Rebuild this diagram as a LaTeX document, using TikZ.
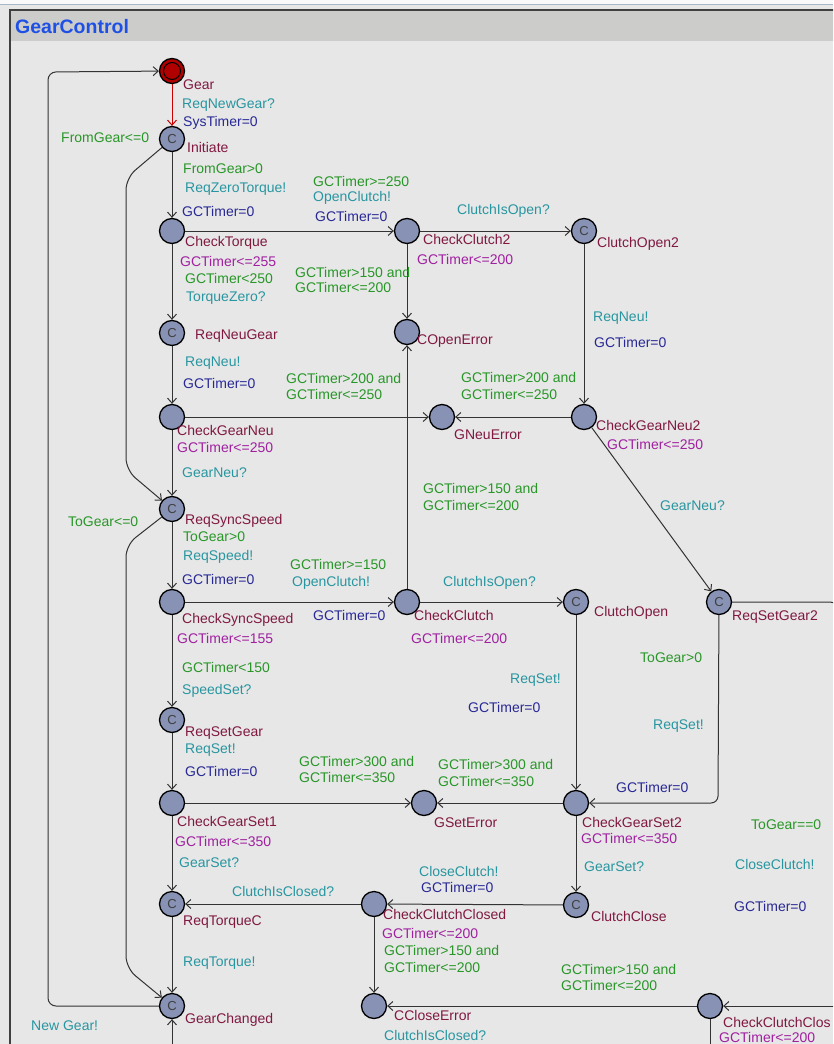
\documentclass[tikz,border=0pt]{standalone}
\usepackage{fontspec}
\setmainfont{Liberation Sans}
\usetikzlibrary{arrows.meta}
\definecolor{bgc}{HTML}{E7E7E7}
\definecolor{titlec}{HTML}{CCCCCA}
\definecolor{titletext}{HTML}{1E50E6}
\definecolor{topline}{HTML}{A8B8CC}
\definecolor{nodefill}{HTML}{8792B4}
\definecolor{namec}{HTML}{801840}
\definecolor{invc}{HTML}{A020A0}
\definecolor{guardc}{HTML}{289628}
\definecolor{syncc}{HTML}{2896A0}
\definecolor{updc}{HTML}{282896}
\definecolor{edgec}{HTML}{333333}
\definecolor{initc}{HTML}{B00000}
\newcommand\putlab[5]{\node[#4] (#1) at (#2,#3) {#5};}
\begin{document}
\begin{tikzpicture}[x=1pt,y=-1pt,
  every node/.style={font=\fontsize{14}{16}\selectfont},
  loc/.style={circle,draw=black,line width=1.3pt,fill=nodefill,minimum size=25pt,inner sep=0pt},
  comm/.style={loc,text=black!75,font=\fontsize{13}{13}\selectfont},
  txt/.style={anchor=west,inner sep=0pt},
  nm/.style={txt,text=namec},
  inv/.style={txt,text=invc},
  gd/.style={txt,text=guardc,align=left},
  sy/.style={txt,text=syncc},
  up/.style={txt,text=updc},
  edge/.style={draw=edgec,line width=1pt,-{Straight Barb[length=5pt,width=9pt]}},
  plain/.style={draw=edgec,line width=1pt}]
\useasboundingbox (0,0) rectangle (833,1044);
\clip (0,0) rectangle (833,1044);
\fill[bgc] (0,0) rectangle (833,1044);
\fill[white!95!gray] (0,0) rectangle (833,4);
\draw[topline,line width=1.5pt] (0,4.5) -- (833,4.5);
\fill[titlec] (10,10) rectangle (840,41);
\draw[black!75,line width=1.6pt] (10,1060) -- (10,10) -- (840,10);
\node[anchor=west,inner sep=0pt,text=titletext,font=\fontsize{19.5}{20}\selectfont\bfseries] (title) at (15,27) {GearControl};

% locations
\node[loc,fill=initc,minimum size=25pt] (Gear) at (172,71) {};
\draw[black,line width=1pt] (Gear) circle (8.5pt);
\node[comm] (Initiate) at (172,139) {C};
\node[loc] (CheckTorque) at (172,231) {};
\node[loc] (CheckClutch2) at (407,231) {};
\node[comm] (ClutchOpen2) at (584,231) {C};
\node[comm] (ReqNeuGear) at (172,333) {C};
\node[loc] (COpenError) at (407,332) {};
\node[loc] (CheckGearNeu) at (172,417) {};
\node[loc] (GNeuError) at (442,417) {};
\node[loc] (CheckGearNeu2) at (584,417) {};
\node[comm] (ReqSyncSpeed) at (172,509) {C};
\node[loc] (CheckSyncSpeed) at (172,602) {};
\node[loc] (CheckClutch) at (407,602) {};
\node[comm] (ClutchOpen) at (576,602) {C};
\node[comm] (ReqSetGear2) at (719,602) {C};
\node[comm] (ReqSetGear) at (172,720) {C};
\node[loc] (CheckGearSet1) at (172,803) {};
\node[loc] (GSetError) at (424,803) {};
\node[loc] (CheckGearSet2) at (576,803) {};
\node[comm] (ReqTorqueC) at (172,904) {C};
\node[loc] (CheckClutchClosed) at (374,904) {};
\node[comm] (ClutchClose) at (576,905) {C};
\node[comm] (GearChanged) at (172,1006) {C};
\node[loc] (CCloseError) at (374,1006) {};
\node[loc] (CheckClutchClosed2) at (710,1006) {};

% free ends
\coordinate (rightA) at (838,602);
\coordinate (rightB) at (838,1006);
\coordinate (botA) at (172,1060);
\coordinate (botB) at (710,1060);

% edges
\draw[edge,draw=red!80!black] (Gear) -- (Initiate);
\draw[edge] (Initiate) -- (CheckTorque);
\draw[edge,rounded corners=12pt] (Initiate) -- (126,178) -- (126,470) -- (ReqSyncSpeed);
\draw[edge] (CheckTorque) -- (ReqNeuGear);
\draw[edge] (CheckTorque) -- (CheckClutch2);
\draw[edge] (CheckClutch2) -- (ClutchOpen2);
\draw[edge] (CheckClutch2) -- (COpenError);
\draw[edge] (ClutchOpen2) -- (CheckGearNeu2);
\draw[edge] (ReqNeuGear) -- (CheckGearNeu);
\draw[edge] (CheckGearNeu) -- (GNeuError);
\draw[edge] (CheckGearNeu2) -- (GNeuError);
\draw[edge] (CheckGearNeu) -- (ReqSyncSpeed);
\draw[edge] (CheckGearNeu2) -- (ReqSetGear2);
\draw[edge] (ReqSyncSpeed) -- (CheckSyncSpeed);
\draw[edge,rounded corners=12pt] (ReqSyncSpeed) -- (126,545) -- (126,968) -- (GearChanged);
\draw[edge] (CheckSyncSpeed) -- (CheckClutch);
\draw[edge] (CheckClutch) -- (COpenError);
\draw[edge] (CheckClutch) -- (ClutchOpen);
\draw[edge] (ClutchOpen) -- (CheckGearSet2);
\draw[edge,rounded corners=7pt] (ReqSetGear2) -- (718,803) -- (CheckGearSet2);
\draw[plain,rounded corners=8pt] (ReqSetGear2) -- (rightA) -- (rightB);
\draw[edge] (rightB) -- (CheckClutchClosed2);
\draw[edge] (CheckSyncSpeed) -- (ReqSetGear);
\draw[edge] (ReqSetGear) -- (CheckGearSet1);
\draw[edge] (CheckGearSet1) -- (GSetError);
\draw[edge] (CheckGearSet2) -- (GSetError);
\draw[edge] (CheckGearSet1) -- (ReqTorqueC);
\draw[edge] (CheckGearSet2) -- (ClutchClose);
\draw[edge] (ClutchClose) -- (CheckClutchClosed);
\draw[edge] (CheckClutchClosed) -- (ReqTorqueC);
\draw[edge] (CheckClutchClosed) -- (CCloseError);
\draw[edge] (CheckClutchClosed2) -- (CCloseError);
\draw[edge] (ReqTorqueC) -- (GearChanged);
\draw[edge,rounded corners=8pt] (GearChanged) -- (48,1006) -- (48,72) -- (Gear);
\draw[edge] (botA) -- (GearChanged);
\draw[plain] (CheckClutchClosed2) -- (botB);

% labels: location names and invariants
\putlab{n1}{183}{85}{nm}{Gear}
\putlab{n2}{187}{147}{nm}{Initiate}
\putlab{n3}{185}{243}{nm}{CheckTorque}
\putlab{i3}{180}{261}{inv}{GCTimer<=255}
\putlab{n4}{423}{239}{nm}{CheckClutch2}
\putlab{i4}{417}{259}{inv}{GCTimer<=200}
\putlab{n5}{597}{244}{nm}{ClutchOpen2}
\putlab{n6}{195}{336}{nm}{ReqNeuGear}
\putlab{n7}{417}{341}{nm}{COpenError}
\putlab{n8}{177}{430}{nm}{CheckGearNeu}
\putlab{i8}{177}{447}{inv}{GCTimer<=250}
\putlab{n9}{454}{435}{nm}{GNeuError}
\putlab{n10}{596}{425}{nm}{CheckGearNeu2}
\putlab{i10}{607}{444}{inv}{GCTimer<=250}
\putlab{n11}{185}{521}{nm}{ReqSyncSpeed}
\putlab{n12}{182}{620}{nm}{CheckSyncSpeed}
\putlab{i12}{177}{638}{inv}{GCTimer<=155}
\putlab{n13}{414}{615}{nm}{CheckClutch}
\putlab{i13}{411}{638}{inv}{GCTimer<=200}
\putlab{n14}{594}{613}{nm}{ClutchOpen}
\putlab{n15}{732}{617}{nm}{ReqSetGear2}
\putlab{n16}{185}{733}{nm}{ReqSetGear}
\putlab{n17}{177}{821}{nm}{CheckGearSet1}
\putlab{i17}{175}{841}{inv}{GCTimer<=350}
\putlab{n18}{434}{823}{nm}{GSetError}
\putlab{n19}{582}{822}{nm}{CheckGearSet2}
\putlab{i19}{581}{838}{inv}{GCTimer<=350}
\putlab{n20}{183}{922}{nm}{ReqTorqueC}
\putlab{n21}{383}{914}{nm}{CheckClutchClosed}
\putlab{i21}{382}{933}{inv}{GCTimer<=200}
\putlab{n22}{591}{916}{nm}{ClutchClose}
\putlab{n23}{185}{1020}{nm}{GearChanged}
\putlab{n24}{394}{1015}{nm}{CCloseError}
\putlab{n25}{723}{1022}{nm}{CheckClutchClos}
\putlab{i25}{719}{1037}{inv}{GCTimer<=200}

% edge labels
\putlab{e1}{182}{105}{sy}{ReqNewGear?}
\putlab{e2}{183}{123}{up}{SysTimer=0}
\putlab{e3}{61}{138}{gd}{FromGear<=0}
\putlab{e4}{183}{169}{gd}{FromGear>0}
\putlab{e5}{185}{189}{sy}{ReqZeroTorque!}
\putlab{e6}{182}{211}{up}{GCTimer=0}
\putlab{e7}{313}{181}{gd}{GCTimer>=250}
\putlab{e8}{313}{198}{sy}{OpenClutch!}
\putlab{e9}{315}{216}{up}{GCTimer=0}
\putlab{e10}{457}{211}{sy}{ClutchIsOpen?}
\putlab{e11}{185}{278}{gd}{GCTimer<250}
\putlab{e12}{186}{298}{sy}{TorqueZero?}
\putlab{e13}{295}{272}{gd}{GCTimer>150 and}
\putlab{e14}{295}{287}{gd}{GCTimer<=200}
\putlab{e15}{593}{318}{sy}{ReqNeu!}
\putlab{e16}{594}{342}{up}{GCTimer=0}
\putlab{e17}{185}{363}{sy}{ReqNeu!}
\putlab{e18}{183}{383}{up}{GCTimer=0}
\putlab{e19}{286}{378}{gd}{GCTimer>200 and}
\putlab{e20}{286}{394}{gd}{GCTimer<=250}
\putlab{e21}{461}{377}{gd}{GCTimer>200 and}
\putlab{e22}{461}{394}{gd}{GCTimer<=250}
\putlab{e23}{182}{473}{sy}{GearNeu?}
\putlab{e24}{423}{488}{gd}{GCTimer>150 and}
\putlab{e25}{423}{505}{gd}{GCTimer<=200}
\putlab{e26}{660}{506}{sy}{GearNeu?}
\putlab{e27}{68}{522}{gd}{ToGear<=0}
\putlab{e28}{183}{537}{gd}{ToGear>0}
\putlab{e29}{183}{557}{sy}{ReqSpeed!}
\putlab{e30}{182}{579}{up}{GCTimer=0}
\putlab{e31}{290}{564}{gd}{GCTimer>=150}
\putlab{e32}{292}{583}{sy}{OpenClutch!}
\putlab{e33}{313}{615}{up}{GCTimer=0}
\putlab{e34}{443}{583}{sy}{ClutchIsOpen?}
\putlab{e35}{182}{667}{gd}{GCTimer<150}
\putlab{e36}{182}{691}{sy}{SpeedSet?}
\putlab{e37}{640}{658}{gd}{ToGear>0}
\putlab{e38}{510}{680}{sy}{ReqSet!}
\putlab{e39}{468}{707}{up}{GCTimer=0}
\putlab{e40}{653}{726}{sy}{ReqSet!}
\putlab{e41}{616}{787}{up}{GCTimer=0}
\putlab{e42}{185}{750}{sy}{ReqSet!}
\putlab{e43}{185}{771}{up}{GCTimer=0}
\putlab{e44}{299}{761}{gd}{GCTimer>300 and}
\putlab{e45}{299}{777}{gd}{GCTimer<=350}
\putlab{e46}{438}{764}{gd}{GCTimer>300 and}
\putlab{e47}{438}{781}{gd}{GCTimer<=350}
\putlab{e48}{179}{863}{sy}{GearSet?}
\putlab{e49}{584}{867}{sy}{GearSet?}
\putlab{e50}{751}{825}{gd}{ToGear==0}
\putlab{e51}{735}{864}{sy}{CloseClutch!}
\putlab{e52}{734}{906}{up}{GCTimer=0}
\putlab{e53}{419}{871}{sy}{CloseClutch!}
\putlab{e54}{421}{887}{up}{GCTimer=0}
\putlab{e55}{232}{891}{sy}{ClutchIsClosed?}
\putlab{e56}{384}{950}{gd}{GCTimer>150 and}
\putlab{e57}{384}{967}{gd}{GCTimer<=200}
\putlab{e58}{561}{969}{gd}{GCTimer>150 and}
\putlab{e59}{561}{985}{gd}{GCTimer<=200}
\putlab{e60}{183}{963}{sy}{ReqTorque!}
\putlab{e61}{31}{1026}{sy}{New Gear!}
\putlab{e62}{384}{1035}{sy}{ClutchIsClosed?}
\end{tikzpicture}
\end{document}
